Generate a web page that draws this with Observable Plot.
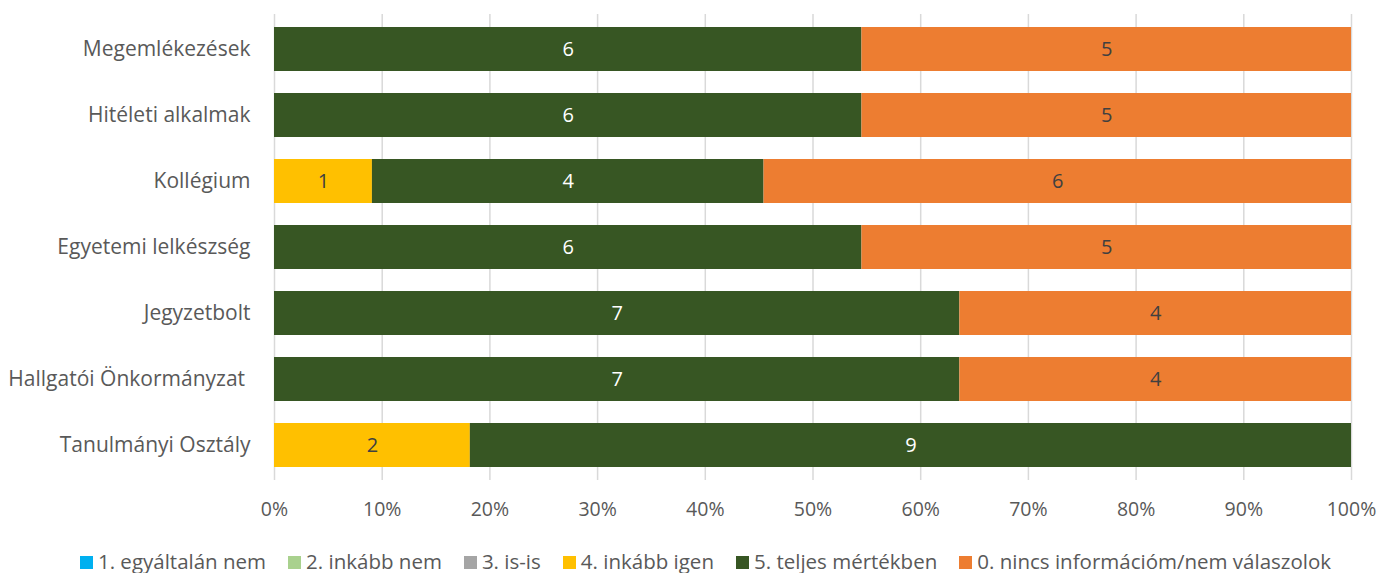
<!DOCTYPE html>
<html>
<head>
<meta charset="utf-8">
<script src="https://cdn.jsdelivr.net/npm/d3@7"></script>
<script src="https://cdn.jsdelivr.net/npm/@observablehq/plot@0.6"></script>
<style>
  body { margin: 0; background: #fff; font-family: "Open Sans", "Liberation Sans", sans-serif; }
  #legend { display: flex; justify-content: center; gap: 22px; font-size: 20.5px; color: #595959; margin-top: 18px; line-height: 26px; white-space: nowrap; padding-left: 30px; }
  #legend span.sw { display: inline-block; width: 13px; height: 13px; margin-right: 5px; vertical-align: 0px; }
</style>
</head>
<body>
<div id="chart"></div>
<div id="legend"></div>
<script>
const categories = ["Megemlékezések", "Hitéleti alkalmak", "Kollégium", "Egyetemi lelkészség", "Jegyzetbolt", "Hallgatói Önkormányzat", "Tanulmányi Osztály"];
const seriesNames = ["1. egyáltalán nem", "2. inkább nem", "3. is-is", "4. inkább igen", "5. teljes mértékben", "0. nincs információm/nem válaszolok"];
const seriesColors = ["#00B0F0", "#A9D18E", "#A5A5A5", "#FFC000", "#375623", "#ED7D31"];
const v1 = [0, 0, 0, 0, 0, 0, 0];
const v2 = [0, 0, 0, 0, 0, 0, 0];
const v3 = [0, 0, 0, 0, 0, 0, 0];
const v4 = [0, 0, 1, 0, 0, 0, 2];
const v5 = [6, 6, 4, 6, 7, 7, 9];
const v0 = [5, 5, 6, 5, 4, 4, 0];
const xTicks = [0, 0.1, 0.2, 0.3, 0.4, 0.5, 0.6, 0.7, 0.8, 0.9, 1];

const seriesValues = [v1, v2, v3, v4, v5, v0];
const rows = [];
seriesNames.forEach((s, si) => {
  categories.forEach((c, ci) => {
    rows.push({cat: c, series: s, value: seriesValues[si][ci]});
  });
});
const labelColor = {"5. teljes mértékben": "#ffffff"};

const chart = Plot.plot({
  width: 1381,
  height: 530,
  marginLeft: 274,
  marginRight: 30,
  marginTop: 14,
  marginBottom: 50,
  style: {fontFamily: "'Open Sans', 'Liberation Sans', sans-serif", fontSize: "19.5px", color: "#595959", background: "#fff"},
  x: {domain: [0, 1], ticks: xTicks, tickFormat: d => Math.round(d * 100) + "%", tickSize: 0, tickPadding: 22, label: null, grid: false},
  y: {domain: categories, paddingInner: 0.34, paddingOuter: 0.17, tickSize: 0, tickPadding: 24, label: null},
  color: {domain: seriesNames, range: seriesColors},
  marks: [
    Plot.ruleX(xTicks, {stroke: "#d9d9d9", strokeWidth: 1.5}),
    Plot.barX(rows, Plot.stackX({x: "value", y: "cat", fill: "series", offset: "normalize", order: seriesNames})),
    Plot.text(rows, Plot.stackX({
      x: "value", y: "cat", z: "series", offset: "normalize", order: seriesNames,
      text: d => d.value > 0 ? String(d.value) : "",
      fill: d => labelColor[d.series] || "#404040",
      fontSize: 20
    })),
    Plot.axisY({tickSize: 0, tickPadding: 24, fontSize: 21, tickFormat: d => d === "Hallgatói Önkormányzat" ? d + "\u00a0" : d})
  ]
});
document.getElementById("chart").appendChild(chart);

const legend = document.getElementById("legend");
seriesNames.forEach((s, i) => {
  const item = document.createElement("div");
  const sw = document.createElement("span");
  sw.className = "sw";
  sw.style.background = seriesColors[i];
  item.appendChild(sw);
  item.appendChild(document.createTextNode(s));
  legend.appendChild(item);
});
</script>
</body>
</html>
